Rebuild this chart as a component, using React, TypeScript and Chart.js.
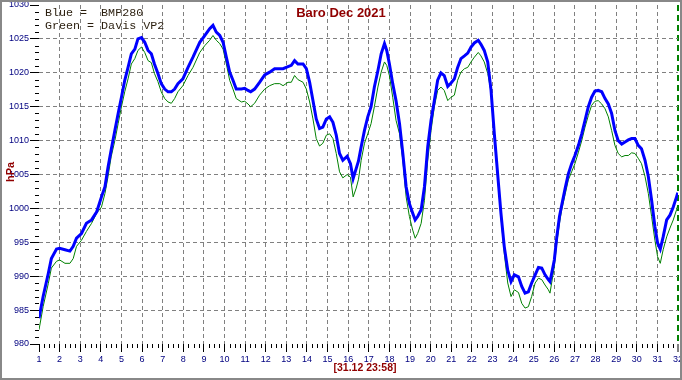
import { useEffect, useRef } from "react";
import { Chart, registerables } from "chart.js";

Chart.register(...registerables);

// Time axis: day of month (1 = Dec 1 00:00, 32 = Jan 1 00:00)
const days = [
  1.0, 1.2, 1.45, 1.6, 1.85, 2.0, 2.26, 2.5, 2.66, 2.82, 3.06, 3.3, 3.55, 3.8, 4.03, 4.2, 4.35, 4.5, 4.68, 4.84,
  5.0, 5.16, 5.32, 5.48, 5.65, 5.8, 5.97, 6.13, 6.29, 6.45, 6.6, 6.77, 6.93, 7.1, 7.26, 7.42, 7.58, 7.74, 7.98, 8.23, 8.47,
  8.8, 9.04, 9.28, 9.44, 9.6, 9.77, 9.93, 10.09, 10.25, 10.41, 10.57, 10.82, 10.98, 11.14, 11.27, 11.46, 11.7, 11.95,
  12.19, 12.43, 12.68, 12.84, 13.08, 13.24, 13.4, 13.56, 13.81, 13.97, 14.13, 14.29, 14.45, 14.61, 14.77, 14.94, 15.1,
  15.26, 15.42, 15.58, 15.74, 15.95, 16.11, 16.24, 16.39, 16.5,
  16.63, 16.79, 16.95, 17.11, 17.27, 17.44, 17.6, 17.76, 17.87, 18.0, 18.16, 18.32, 18.49, 18.65, 18.81, 18.97, 19.13,
  19.25, 19.37, 19.54, 19.7, 19.86, 20.02, 20.18, 20.34, 20.5, 20.66, 20.83, 20.99, 21.15, 21.31, 21.47, 21.64, 21.8,
  21.96, 22.12, 22.31, 22.44, 22.6, 22.77, 22.93, 23.09, 23.25, 23.41, 23.57, 23.74, 23.9, 24.06,
  24.26, 24.42, 24.58, 24.74, 24.9, 25.07, 25.23, 25.39, 25.55, 25.71, 25.79, 25.87, 26.0, 26.12, 26.25, 26.36, 26.52,
  26.68, 26.84, 27.0, 27.17, 27.33, 27.49, 27.65, 27.81, 27.97, 28.13, 28.3, 28.46, 28.62, 28.78, 28.94, 29.1, 29.27,
  29.43, 29.59, 29.75, 29.91, 30.07, 30.23, 30.4, 30.56, 30.72, 30.88, 31.01, 31.14, 31.28, 31.45, 31.61, 31.77, 31.93, 31.99,
];

// Blue = BMP280 (hPa)
const bmp280 = [
  983.8, 987.0, 990.4, 992.6, 994.0, 994.1, 993.9, 993.7, 994.4, 995.6, 996.3, 997.8, 998.3, 999.5, 1001.7, 1003.2, 1006.1, 1008.6, 1011.5, 1014.0,
  1016.4, 1018.9, 1020.8, 1022.8, 1023.5, 1025.0, 1025.2, 1024.5, 1023.3, 1022.8, 1021.3, 1019.9, 1018.4, 1017.6, 1017.2, 1017.2, 1017.6, 1018.4, 1019.1, 1020.8, 1022.3,
  1024.5, 1025.5, 1026.5, 1027.0, 1026.0, 1025.5, 1024.5, 1022.3, 1020.1, 1018.9, 1017.6, 1017.6, 1017.7, 1017.4, 1017.2, 1017.6, 1018.6, 1019.7,
  1020.1, 1020.6, 1020.6, 1020.6, 1020.9, 1021.1, 1021.8, 1021.3, 1021.3, 1020.6, 1018.6, 1015.9, 1013.2, 1011.8, 1012.0, 1013.2, 1013.5,
  1012.7, 1010.8, 1008.1, 1007.1, 1007.7, 1006.6, 1004.4, 1005.9, 1007.0,
  1009.1, 1011.5, 1013.5, 1015.0, 1017.9, 1020.3, 1022.8, 1024.3, 1023.3, 1021.3, 1018.4, 1015.9, 1012.5, 1008.1, 1003.2, 1000.7, 999.3,
  998.3, 998.8, 999.8, 1003.2, 1009.1, 1013.0, 1015.9, 1018.9, 1020.0, 1019.6, 1018.0, 1018.5, 1019.1, 1020.8, 1022.1, 1022.5, 1022.9,
  1023.8, 1024.4, 1024.8, 1024.2, 1023.3, 1021.6, 1017.4, 1011.0, 1005.1, 999.3, 994.4, 990.9, 989.2, 990.2,
  989.9, 988.5, 987.5, 987.7, 989.0, 990.2, 991.3, 991.2, 990.2, 989.5, 989.2, 990.4, 992.4, 995.8, 998.8, 1000.5, 1002.9,
  1005.1, 1006.6, 1007.8, 1009.3, 1011.0, 1013.0, 1015.0, 1016.4, 1017.3, 1017.4, 1017.2, 1016.2, 1015.4, 1014.0, 1011.5, 1010.0, 1009.5,
  1009.8, 1010.1, 1010.3, 1010.3, 1009.3, 1008.8, 1007.1, 1004.7, 1001.2, 997.3, 994.9, 994.0, 995.8, 998.3, 999.0, 1000.2, 1001.7, 1002.3,
];

// Green = Davis VP2 (hPa)
const davisVP2 = [
  982.1, 985.5, 988.9, 991.2, 992.2, 992.4, 991.9, 991.9, 992.6, 994.4, 995.3, 996.6, 997.8, 999.3, 1000.2, 1002.2, 1004.7, 1007.6, 1010.0, 1012.5,
  1015.0, 1017.2, 1019.1, 1021.3, 1022.1, 1023.3, 1023.8, 1023.0, 1021.8, 1021.5, 1019.9, 1018.7, 1017.2, 1016.2, 1015.7, 1015.5, 1016.2, 1017.2, 1018.1, 1019.6, 1020.8,
  1023.0, 1024.0, 1024.8, 1025.5, 1024.8, 1024.3, 1023.5, 1021.3, 1018.9, 1017.6, 1016.2, 1015.7, 1015.8, 1015.4, 1015.0, 1015.5, 1016.7, 1017.6,
  1018.1, 1018.4, 1018.4, 1018.1, 1018.6, 1018.6, 1019.6, 1019.0, 1018.6, 1017.6, 1015.7, 1013.2, 1010.3, 1009.2, 1009.6, 1010.8, 1011.0,
  1010.3, 1008.1, 1005.4, 1004.5, 1005.0, 1004.6, 1001.7, 1003.0, 1004.3,
  1007.1, 1009.6, 1011.0, 1012.5, 1015.0, 1017.9, 1020.1, 1021.6, 1021.1, 1019.6, 1016.4, 1013.0, 1011.0, 1007.1, 1001.7, 998.8, 996.8,
  995.6, 996.3, 997.8, 1001.2, 1007.1, 1011.5, 1015.0, 1017.4, 1017.9, 1017.4, 1015.9, 1016.4, 1016.7, 1018.9, 1020.1, 1020.6, 1020.8,
  1021.6, 1022.3, 1023.0, 1022.5, 1021.6, 1019.9, 1017.2, 1010.5, 1004.6, 998.8, 993.4, 989.0, 987.0, 988.0,
  987.6, 986.0, 985.3, 985.5, 987.0, 989.0, 989.7, 989.5, 988.7, 988.0, 987.5, 989.0, 991.4, 994.9, 997.8, 999.8, 1002.0,
  1004.2, 1005.4, 1006.6, 1008.3, 1010.0, 1012.0, 1013.7, 1015.2, 1015.8, 1015.9, 1015.4, 1014.7, 1013.5, 1011.5, 1009.3, 1008.1, 1007.6,
  1007.8, 1007.8, 1008.2, 1008.1, 1007.4, 1006.6, 1004.7, 1002.2, 998.8, 995.3, 992.9, 991.9, 993.9, 995.8, 997.1, 998.3, 999.8, 1000.5,
];

const Y_MIN = 980;
const Y_MAX = 1030;
const Y_STEP = 5;
const X_MIN = 1;
const X_MAX = 32;

const titleText = "Baro Dec 2021";
const legendLines = ["Blue =  BMP280", "Green = Davis VP2"];
const yTitle = "hPa";
const stampText = "[31.12 23:58]";

const NAVY = "#000080";
const MAROON = "#900000";
const GRID = "#808080";
const SANS = "'Liberation Sans', Arial, sans-serif";

export default function App() {
  const ref = useRef<HTMLCanvasElement>(null);

  useEffect(() => {
    document.body.style.margin = "0";
    const canvas = ref.current;
    if (!canvas) return;

    const deco = {
      id: "deco",
      afterDraw(chart: any) {
        const ctx = chart.ctx as CanvasRenderingContext2D;
        const xs = chart.scales.x;
        const ys = chart.scales.y;
        const area = chart.chartArea;
        ctx.save();
        // minor ticks
        ctx.strokeStyle = "#000";
        ctx.lineWidth = 1;
        ctx.setLineDash([]);
        ctx.beginPath();
        for (let v = Y_MIN + 1; v < Y_MAX; v++) {
          if (v % Y_STEP === 0) continue;
          const py = Math.round(ys.getPixelForValue(v)) + 0.5;
          ctx.moveTo(area.left - 4, py);
          ctx.lineTo(area.left, py);
        }
        for (let q = X_MIN * 4 + 1; q < X_MAX * 4; q++) {
          if (q % 4 === 0) continue;
          const px = Math.round(xs.getPixelForValue(q / 4)) + 0.5;
          ctx.moveTo(px, area.bottom);
          ctx.lineTo(px, area.bottom + 4);
        }
        ctx.stroke();

        // title
        ctx.fillStyle = MAROON;
        ctx.font = `bold 13px ${SANS}`;
        ctx.textAlign = "center";
        ctx.textBaseline = "middle";
        ctx.fillText(titleText, 341, 13);

        // legend text
        ctx.fillStyle = "#2a1e0e";
        ctx.font = "11.7px 'Liberation Mono', 'Courier New', monospace";
        ctx.textAlign = "left";
        ctx.fillText(legendLines[0], 45, 13);
        ctx.fillText(legendLines[1], 45, 26);

        // y axis title
        ctx.fillStyle = MAROON;
        ctx.font = `bold 11px ${SANS}`;
        ctx.textAlign = "center";
        ctx.save();
        ctx.translate(11, 172);
        ctx.rotate(-Math.PI / 2);
        ctx.fillText(yTitle, 0, 0);
        ctx.restore();

        // time stamp
        ctx.font = `bold 10.5px ${SANS}`;
        ctx.fillText(stampText, 365, 368);

        // frame
        ctx.strokeStyle = "#888888";
        ctx.lineWidth = 2;
        ctx.strokeRect(1, 1, chart.width - 2, chart.height - 2);
        ctx.restore();
      },
    };

    const chart = new Chart(canvas, {
      type: "line",
      data: {
        datasets: [
          {
            label: "BMP280",
            data: days.map((d, i) => ({ x: d, y: bmp280[i] })),
            borderColor: "#0000ff",
            borderWidth: 3,
            pointRadius: 0,
            tension: 0,
            fill: false,
          },
          {
            label: "Davis VP2",
            data: days.map((d, i) => ({ x: d, y: davisVP2[i] })),
            borderColor: "#008000",
            borderWidth: 1,
            pointRadius: 0,
            tension: 0,
            fill: false,
          },
        ],
      },
      options: {
        animation: false,
        responsive: false,
        devicePixelRatio: 1,
        layout: { padding: { left: 0, right: 4, top: 5, bottom: 0 } },
        plugins: {
          legend: { display: false },
          tooltip: { enabled: false },
          title: { display: false },
        },
        scales: {
          x: {
            type: "linear",
            min: X_MIN,
            max: X_MAX,
            ticks: {
              stepSize: 1,
              autoSkip: false,
              maxRotation: 0,
              color: NAVY,
              font: { family: SANS, size: 9 },
              padding: 2,
              callback: (v: any) => String(v),
            },
            grid: {
              color: (c: any) => {
                const v = c.tick ? c.tick.value : 0;
                if (v === X_MIN) return "transparent";
                if (v === X_MAX) return "#008000";
                return GRID;
              },
              lineWidth: (c: any) => (c.tick && c.tick.value === X_MAX ? 2 : 1),
              tickColor: "#000",
              tickWidth: 1,
              tickLength: 8,
            },
            border: {
              display: false,
              dash: (c: any) => (c.tick && c.tick.value === X_MAX ? [6, 4] : [4, 3]),
            },
            afterFit: (s: any) => {
              s.height = 36;
              s.paddingLeft = 0;
              s.paddingRight = 0;
            },
          } as any,
          y: {
            type: "linear",
            min: Y_MIN,
            max: Y_MAX,
            ticks: {
              stepSize: Y_STEP,
              color: NAVY,
              font: { family: SANS, size: 9 },
              padding: 1,
              callback: (v: any) => String(v),
            },
            grid: {
              color: (c: any) => {
                const v = c.tick ? c.tick.value : 0;
                return v === Y_MIN || v === Y_MAX ? "transparent" : GRID;
              },
              tickColor: "#000",
              tickWidth: 1,
              tickLength: 9,
            },
            border: { display: false, dash: [4, 3] },
            afterFit: (s: any) => {
              s.width = 39;
              s.paddingTop = 0;
              s.paddingBottom = 0;
            },
          } as any,
        },
      },
      plugins: [deco],
    });

    return () => chart.destroy();
  }, []);

  return (
    <div style={{ width: 682, height: 380 }}>
      <canvas ref={ref} width={682} height={380} style={{ display: "block" }} />
    </div>
  );
}
